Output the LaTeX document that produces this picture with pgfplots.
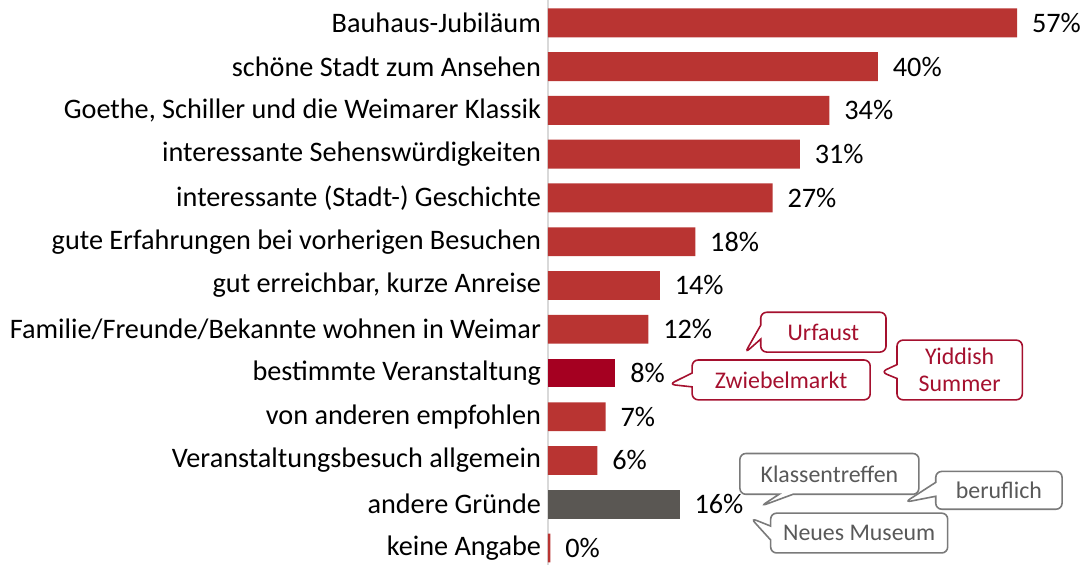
\documentclass[border=0pt]{standalone}
\usepackage{fontspec}
\setmainfont{Carlito}
\usepackage{pgfplots}
\usepackage{pgfplotstable}
\pgfplotsset{compat=1.18}
\usetikzlibrary{shapes.callouts}

\definecolor{barred}{HTML}{B93432}
\definecolor{bardark}{HTML}{A50021}
\definecolor{bargray}{HTML}{5A5753}
\definecolor{calred}{HTML}{A5102E}
\definecolor{calgray}{HTML}{595959}

% y = row (0 at top), val = bar length, lab = printed percent
\pgfplotstableread{
y val lab
0 57.0 57
1 40.1 40
2 34.2 34
3 30.6 31
4 27.3 27
5 17.9 18
6 13.6 14
7 12.2 12
9 7.0 7
10 6.0 6
12 0.3 0
}\redbars
\pgfplotstableread{
y val lab
8 8.2 8
}\darkbars
\pgfplotstableread{
y val lab
11 16.0 16
}\graybars

\begin{document}
\begin{tikzpicture}
\begin{axis}[
  name=ax,
  scale only axis,
  width=265.5pt, height=284pt,
  xbar, bar width=14.5pt, bar shift=0pt,
  xmin=0, xmax=64.17,
  ymin=-0.523, ymax=12.386, y dir=reverse,
  axis x line=none,
  axis y line*=left,
  y axis line style={draw=black!15, line width=1pt},
  ytick={0,...,12},
  yticklabels={Bauhaus-Jubiläum, schöne Stadt zum Ansehen,
    {Goethe, Schiller und die Weimarer Klassik},
    interessante Sehenswürdigkeiten, interessante (Stadt-) Geschichte,
    gute Erfahrungen bei vorherigen Besuchen,
    {gut erreichbar, kurze Anreise},
    Familie/Freunde/Bekannte wohnen in Weimar,
    bestimmte Veranstaltung, von anderen empfohlen,
    Veranstaltungsbesuch allgemein, andere Gründe, keine Angabe},
  major tick length=0pt,
  yticklabel style={font=\fontsize{14.2}{16}\selectfont},
  nodes near coords={\pgfplotspointmeta\%},
  point meta=explicit symbolic,
  every node near coord/.append style={font=\fontsize{14.2}{16}\selectfont, black, anchor=west, xshift=4pt},
  clip=false,
]
\addplot[fill=barred, draw=none] table[x=val, y=y, meta=lab] {\redbars};
\addplot[fill=bardark, draw=none] table[x=val, y=y, meta=lab] {\darkbars};
\addplot[fill=bargray, draw=none] table[x=val, y=y, meta=lab] {\graybars};

\tikzset{
  cal/.style={rectangle callout, rounded corners=3pt, fill=white, line width=0.8pt,
    inner sep=0pt, align=center, font=\fontsize{12}{13.5}\selectfont, callout pointer width=7pt},
  calr/.style={cal, draw=calred, text=calred},
  calg/.style={cal, draw=calgray!80, text=calgray},
}
\node[calr, minimum width=63pt, minimum height=20pt,
  callout absolute pointer={(axis cs:23.93,7.545)}] at (axis cs:33.47,7.068) {Urfaust};
\node[calr, minimum width=89.5pt, minimum height=20pt,
  callout absolute pointer={(axis cs:14.74,8.261)}] at (axis cs:28.34,8.159) {Zwiebelmarkt};
\node[calr, minimum width=63pt, minimum height=30pt,
  callout absolute pointer={(axis cs:40.48,7.977)}] at (axis cs:50.03,7.932) {Yiddish\\Summer};
\node[calg, minimum width=90pt, minimum height=20.5pt,
  callout absolute pointer={(axis cs:25.86,11.045)}] at (axis cs:34.20,10.307) {Klassentreffen};
\node[calg, minimum width=63.5pt, minimum height=19pt,
  callout absolute pointer={(axis cs:43.38,10.955)}] at (axis cs:54.80,10.682) {beruflich};
\node[calg, minimum width=89pt, minimum height=20pt,
  callout absolute pointer={(axis cs:24.65,11.318)}] at (axis cs:37.82,11.659) {Neues Museum};
\end{axis}
\pgfresetboundingbox
\useasboundingbox (ax.south west) ++(-275.5pt,0) rectangle ([xshift=3pt]ax.north east);
\end{tikzpicture}
\end{document}
